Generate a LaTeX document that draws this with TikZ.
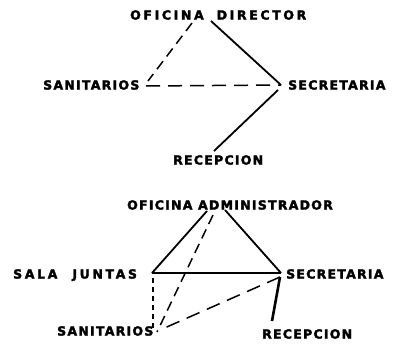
\documentclass[tikz,border=0pt]{standalone}
\usepackage{fontspec}
\newfontfamily\lblfont{DejaVu Sans}[UprightFont=* Bold, LetterSpace=10, FakeBold=2.5]
\newfontfamily\widelblfont{DejaVu Sans}[UprightFont=* Bold, LetterSpace=21, FakeBold=2.5]
\begin{document}
\begin{tikzpicture}[x=1pt,y=-1pt,
  lbl/.style={font=\lblfont\fontsize{12.5}{12.5}\selectfont, inner sep=0pt, text height=9.1pt, text depth=0pt, anchor=west},
  widelbl/.style={lbl, font=\widelblfont\fontsize{12.5}{12.5}\selectfont},
  solidline/.style={line width=1.8pt, black},
  thickline/.style={line width=2.6pt, black},
  dashline/.style={line width=1.5pt, black, dash pattern=on 10pt off 6pt},
  longdash/.style={line width=1.5pt, black, dash pattern=on 14pt off 8pt},
  shortdash/.style={line width=1.5pt, black, dash pattern=on 5pt off 4pt}]
\useasboundingbox (0,0) rectangle (395,345);
% top diagram
\node[widelbl] (od) at (130,15) {OFICINA\hspace{13pt}DIRECTOR};
\node[lbl] (san1) at (43,85) {SANITARIOS};
\node[lbl] (sec1) at (288,85) {SECRETARIA};
\node[lbl] (rec1) at (173,160) {RECEPCION};
\coordinate (odA) at (192,23);
\coordinate (odB) at (211,21);
\coordinate (san1e) at (146,86);
\coordinate (san1t) at (148,81);
\coordinate (sec1v) at (281,85);
\coordinate (sec1b) at (278,90);
\coordinate (rec1t) at (214,151);
\draw[dashline] (odA) -- (san1t);
\draw[solidline] (odB) -- (sec1v);
\draw[longdash] (san1e) -- (sec1v);
\draw[solidline] (sec1b) -- (rec1t);
% bottom diagram
\node[lbl] (oa) at (127,205) {OFICINA ADMINISTRADOR};
\node[widelbl] (sj) at (13,274) {SALA\hspace{15pt}JUNTAS};
\node[lbl] (sec2) at (286,274) {SECRETARIA};
\node[lbl] (san2) at (57,331) {SANITARIOS};
\node[lbl] (rec2) at (262,334) {RECEPCION};
\coordinate (oaL) at (207,211);
\coordinate (oaM) at (213,215);
\coordinate (oaR) at (225,210);
\coordinate (sjv) at (152,273);
\coordinate (sjb) at (153,278);
\coordinate (san2a) at (153,329);
\coordinate (san2b) at (157,332);
\coordinate (san2c) at (160,330);
\coordinate (sec2v) at (281,273);
\coordinate (sec2b) at (280,277);
\coordinate (rec2t) at (272,321);
\draw[solidline] (oaL) -- (sjv);
\draw[solidline] (oaR) -- (sec2v);
\draw[thickline] (sjv) -- (sec2v);
\draw[shortdash] (sjb) -- (san2a);
\draw[dashline] (oaM) -- (san2b);
\draw[longdash] (sec2b) -- (san2c);
\draw[thickline] (sec2b) -- (rec2t);
\end{tikzpicture}
\end{document}
